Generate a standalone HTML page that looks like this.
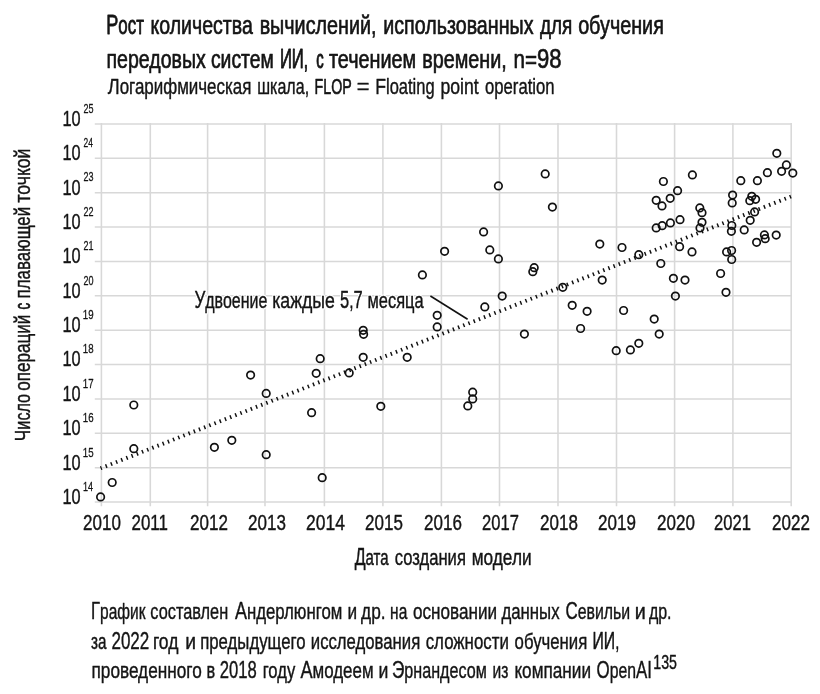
<!DOCTYPE html>
<html lang="ru">
<head>
<meta charset="utf-8">
<title>Рост количества вычислений, использованных для обучения передовых систем ИИ</title>
<style>
html,body{margin:0;padding:0;background:#fff;}
svg{display:block;}
text{font-family:"Liberation Sans",sans-serif;stroke-linejoin:round;}
text:not(#ann),.ink{fill:#141414;stroke:#141414;stroke-width:0.58px;}
.halo{fill:#fff;stroke:#fff;stroke-width:3.18px;stroke-linejoin:round;}
.grid line{stroke:#d8d8d8;stroke-width:1.55;}
.pts circle{fill:none;stroke:#111;stroke-width:1.7;}
</style>
</head>
<body>
<svg width="820" height="694" viewBox="0 0 820 694">
<rect width="820" height="694" fill="#fff"/>
<g class="grid">
<line x1="94.8" y1="123.90" x2="791.98" y2="123.90"/>
<line x1="94.8" y1="158.28" x2="791.98" y2="158.28"/>
<line x1="94.8" y1="192.66" x2="791.98" y2="192.66"/>
<line x1="94.8" y1="227.04" x2="791.98" y2="227.04"/>
<line x1="94.8" y1="261.42" x2="791.98" y2="261.42"/>
<line x1="94.8" y1="295.80" x2="791.98" y2="295.80"/>
<line x1="94.8" y1="330.18" x2="791.98" y2="330.18"/>
<line x1="94.8" y1="364.56" x2="791.98" y2="364.56"/>
<line x1="94.8" y1="398.94" x2="791.98" y2="398.94"/>
<line x1="94.8" y1="433.32" x2="791.98" y2="433.32"/>
<line x1="94.8" y1="467.70" x2="791.98" y2="467.70"/>
<line x1="94.8" y1="502.08" x2="791.98" y2="502.08"/>
<line x1="101.4" y1="123.12" x2="101.4" y2="506.2"/>
<line x1="150.3" y1="123.12" x2="150.3" y2="506.2"/>
<line x1="207.6" y1="123.12" x2="207.6" y2="506.2"/>
<line x1="265" y1="123.12" x2="265" y2="506.2"/>
<line x1="324.4" y1="123.12" x2="324.4" y2="506.2"/>
<line x1="382.9" y1="123.12" x2="382.9" y2="506.2"/>
<line x1="441.4" y1="123.12" x2="441.4" y2="506.2"/>
<line x1="499.5" y1="123.12" x2="499.5" y2="506.2"/>
<line x1="558" y1="123.12" x2="558" y2="506.2"/>
<line x1="616.5" y1="123.12" x2="616.5" y2="506.2"/>
<line x1="674.6" y1="123.12" x2="674.6" y2="506.2"/>
<line x1="732.9" y1="123.12" x2="732.9" y2="506.2"/>
<line x1="791.2" y1="123.12" x2="791.2" y2="506.2"/>
</g>
<line x1="100.6" y1="468.3" x2="791" y2="196.5" stroke="#111" stroke-width="3.9" stroke-dasharray="1.45 4.12" stroke-dashoffset="0.2"/>
<use href="#ann" class="halo" style="stroke-width:3.00px"/>
<g class="ink" style="stroke-width:0.4px"><text y="307.7" id="ann" font-size="21.8"><tspan x="194.40" textLength="10.86" lengthAdjust="spacingAndGlyphs" font-size="23.33">У</tspan><tspan x="205.26" textLength="62.03" lengthAdjust="spacingAndGlyphs">двоение</tspan> <tspan x="272.19" textLength="62.71" lengthAdjust="spacingAndGlyphs">каждые</tspan> <tspan x="340.10" textLength="9.16" lengthAdjust="spacingAndGlyphs" font-size="23.33">5</tspan><tspan x="349.26" textLength="4.27" lengthAdjust="spacingAndGlyphs">,</tspan><tspan x="353.53" textLength="9.16" lengthAdjust="spacingAndGlyphs" font-size="23.33">7</tspan> <tspan x="367.55" textLength="56.09" lengthAdjust="spacingAndGlyphs">месяца</tspan></text></g>
<line x1="430.4" y1="296" x2="467.6" y2="319.2" stroke="#111" stroke-width="1.6"/>
<g class="pts">
<circle cx="133.8" cy="405.0" r="3.75"/>
<circle cx="133.8" cy="448.7" r="3.75"/>
<circle cx="112.2" cy="482.5" r="3.75"/>
<circle cx="100.6" cy="496.9" r="3.75"/>
<circle cx="214.4" cy="447.3" r="3.75"/>
<circle cx="231.8" cy="440.3" r="3.75"/>
<circle cx="266.2" cy="454.7" r="3.75"/>
<circle cx="311.6" cy="412.7" r="3.75"/>
<circle cx="322.2" cy="477.7" r="3.75"/>
<circle cx="380.8" cy="406.3" r="3.75"/>
<circle cx="467.8" cy="405.9" r="3.75"/>
<circle cx="250.6" cy="375.1" r="3.75"/>
<circle cx="266.2" cy="393.4" r="3.75"/>
<circle cx="316.2" cy="373.3" r="3.75"/>
<circle cx="320.2" cy="358.7" r="3.75"/>
<circle cx="349.2" cy="372.9" r="3.75"/>
<circle cx="363.2" cy="357.3" r="3.75"/>
<circle cx="363.6" cy="334.3" r="3.75"/>
<circle cx="363.2" cy="330.3" r="3.75"/>
<circle cx="407.2" cy="357.3" r="3.75"/>
<circle cx="422.4" cy="274.9" r="3.75"/>
<circle cx="437.2" cy="315.3" r="3.75"/>
<circle cx="437.2" cy="326.9" r="3.75"/>
<circle cx="484.8" cy="306.9" r="3.75"/>
<circle cx="502.2" cy="296.1" r="3.75"/>
<circle cx="498.4" cy="258.9" r="3.75"/>
<circle cx="534.2" cy="267.7" r="3.75"/>
<circle cx="532.8" cy="271.7" r="3.75"/>
<circle cx="562.8" cy="287.3" r="3.75"/>
<circle cx="572.2" cy="305.3" r="3.75"/>
<circle cx="587.1" cy="311.3" r="3.75"/>
<circle cx="580.6" cy="328.5" r="3.75"/>
<circle cx="524.4" cy="334.1" r="3.75"/>
<circle cx="472.7" cy="392.2" r="3.75"/>
<circle cx="472.7" cy="398.9" r="3.75"/>
<circle cx="602.2" cy="280.1" r="3.75"/>
<circle cx="623.6" cy="310.5" r="3.75"/>
<circle cx="616.2" cy="350.7" r="3.75"/>
<circle cx="630.4" cy="349.9" r="3.75"/>
<circle cx="638.8" cy="343.3" r="3.75"/>
<circle cx="654.2" cy="319.1" r="3.75"/>
<circle cx="659.2" cy="334.1" r="3.75"/>
<circle cx="660.8" cy="263.5" r="3.75"/>
<circle cx="673.4" cy="278.3" r="3.75"/>
<circle cx="685.0" cy="280.1" r="3.75"/>
<circle cx="675.4" cy="296.1" r="3.75"/>
<circle cx="720.6" cy="273.5" r="3.75"/>
<circle cx="726.0" cy="292.3" r="3.75"/>
<circle cx="731.7" cy="259.5" r="3.75"/>
<circle cx="444.6" cy="251.3" r="3.75"/>
<circle cx="483.6" cy="231.9" r="3.75"/>
<circle cx="489.8" cy="249.9" r="3.75"/>
<circle cx="498.4" cy="185.9" r="3.75"/>
<circle cx="545.2" cy="173.9" r="3.75"/>
<circle cx="552.4" cy="207.1" r="3.75"/>
<circle cx="599.8" cy="244.1" r="3.75"/>
<circle cx="622.0" cy="247.5" r="3.75"/>
<circle cx="638.8" cy="254.7" r="3.75"/>
<circle cx="663.4" cy="181.5" r="3.75"/>
<circle cx="656.2" cy="200.3" r="3.75"/>
<circle cx="662.0" cy="205.9" r="3.75"/>
<circle cx="670.2" cy="198.3" r="3.75"/>
<circle cx="677.6" cy="190.7" r="3.75"/>
<circle cx="656.2" cy="227.9" r="3.75"/>
<circle cx="662.2" cy="225.7" r="3.75"/>
<circle cx="670.4" cy="222.9" r="3.75"/>
<circle cx="680.0" cy="219.7" r="3.75"/>
<circle cx="679.6" cy="246.7" r="3.75"/>
<circle cx="692.4" cy="174.9" r="3.75"/>
<circle cx="692.0" cy="251.9" r="3.75"/>
<circle cx="699.8" cy="207.9" r="3.75"/>
<circle cx="702.0" cy="212.7" r="3.75"/>
<circle cx="702.0" cy="222.3" r="3.75"/>
<circle cx="700.0" cy="227.9" r="3.75"/>
<circle cx="726.6" cy="251.9" r="3.75"/>
<circle cx="731.6" cy="250.5" r="3.75"/>
<circle cx="732.6" cy="195.1" r="3.75"/>
<circle cx="732.2" cy="202.9" r="3.75"/>
<circle cx="731.8" cy="225.5" r="3.75"/>
<circle cx="731.4" cy="231.3" r="3.75"/>
<circle cx="740.8" cy="180.7" r="3.75"/>
<circle cx="744.2" cy="229.9" r="3.75"/>
<circle cx="749.8" cy="200.7" r="3.75"/>
<circle cx="751.8" cy="196.3" r="3.75"/>
<circle cx="755.6" cy="199.3" r="3.75"/>
<circle cx="754.6" cy="211.9" r="3.75"/>
<circle cx="750.2" cy="220.3" r="3.75"/>
<circle cx="757.4" cy="180.7" r="3.75"/>
<circle cx="756.6" cy="242.3" r="3.75"/>
<circle cx="764.4" cy="234.9" r="3.75"/>
<circle cx="765.2" cy="238.7" r="3.75"/>
<circle cx="776.2" cy="235.1" r="3.75"/>
<circle cx="767.4" cy="172.7" r="3.75"/>
<circle cx="776.8" cy="153.3" r="3.75"/>
<circle cx="781.6" cy="171.3" r="3.75"/>
<circle cx="786.4" cy="164.9" r="3.75"/>
<circle cx="792.8" cy="173.1" r="3.75"/>
</g>
<text y="33.8" style="stroke-width:0.65px" font-size="25.0"><tspan x="106.17" textLength="12.09" lengthAdjust="spacingAndGlyphs" font-size="26.75" style="stroke-width:0.78px">Р</tspan><tspan x="118.26" textLength="25.64" lengthAdjust="spacingAndGlyphs" style="stroke-width:0.78px">ост</tspan> <tspan x="150.54" textLength="102.26" lengthAdjust="spacingAndGlyphs">количества</tspan> <tspan x="259.63" textLength="111.40" lengthAdjust="spacingAndGlyphs">вычислений</tspan><tspan x="371.04" textLength="5.49" lengthAdjust="spacingAndGlyphs">,</tspan> <tspan x="383.24" textLength="150.24" lengthAdjust="spacingAndGlyphs">использованных</tspan> <tspan x="539.93" textLength="32.42" lengthAdjust="spacingAndGlyphs">для</tspan> <tspan x="578.13" textLength="85.76" lengthAdjust="spacingAndGlyphs">обучения</tspan></text>
<text y="67.6" style="stroke-width:0.65px" font-size="25.0"><tspan x="106.44" textLength="99.34" lengthAdjust="spacingAndGlyphs">передовых</tspan> <tspan x="210.95" textLength="62.84" lengthAdjust="spacingAndGlyphs">систем</tspan> <tspan x="279.88" textLength="23.96" lengthAdjust="spacingAndGlyphs" font-size="26.75" style="stroke-width:0.94px">ИИ</tspan><tspan x="303.84" textLength="4.33" lengthAdjust="spacingAndGlyphs" style="stroke-width:0.94px">,</tspan> <tspan x="316.13" textLength="7.44" lengthAdjust="spacingAndGlyphs" style="stroke-width:1.02px">с</tspan> <tspan x="328.93" textLength="87.29" lengthAdjust="spacingAndGlyphs">течением</tspan> <tspan x="422.13" textLength="79.11" lengthAdjust="spacingAndGlyphs">времени</tspan><tspan x="501.24" textLength="5.50" lengthAdjust="spacingAndGlyphs">,</tspan> <tspan x="513.50" textLength="23.53" lengthAdjust="spacingAndGlyphs">n=</tspan><tspan x="537.03" textLength="24.57" lengthAdjust="spacingAndGlyphs" font-size="26.75">98</tspan></text>
<text y="93.9" style="stroke-width:0.4px" font-size="21.2"><tspan x="107.80" textLength="11.90" lengthAdjust="spacingAndGlyphs" font-size="22.68">Л</tspan><tspan x="119.70" textLength="131.68" lengthAdjust="spacingAndGlyphs">огарифмическая</tspan> <tspan x="257.24" textLength="47.39" lengthAdjust="spacingAndGlyphs">шкала</tspan><tspan x="304.64" textLength="4.45" lengthAdjust="spacingAndGlyphs">,</tspan> <tspan x="314.57" textLength="37.13" lengthAdjust="spacingAndGlyphs" font-size="22.68" style="stroke-width:0.68px">FLOP</tspan> <tspan x="356.77" textLength="12.71" lengthAdjust="spacingAndGlyphs">=</tspan> <tspan x="375.22" textLength="10.78" lengthAdjust="spacingAndGlyphs" font-size="22.68">F</tspan><tspan x="386.00" textLength="48.61" lengthAdjust="spacingAndGlyphs">loating</tspan> <tspan x="440.47" textLength="38.24" lengthAdjust="spacingAndGlyphs">point</tspan> <tspan x="485.00" textLength="69.62" lengthAdjust="spacingAndGlyphs">operation</tspan></text>
<text transform="translate(30.3 441) rotate(-90)" y="0" style="stroke-width:0.42px" font-size="21.2"><tspan x="-0.15" textLength="11.53" lengthAdjust="spacingAndGlyphs" font-size="22.68">Ч</tspan><tspan x="11.37" textLength="35.71" lengthAdjust="spacingAndGlyphs">исло</tspan> <tspan x="50.21" textLength="76.15" lengthAdjust="spacingAndGlyphs">операций</tspan> <tspan x="131.41" textLength="6.63" lengthAdjust="spacingAndGlyphs" style="stroke-width:0.70px">с</tspan> <tspan x="142.61" textLength="91.54" lengthAdjust="spacingAndGlyphs">плавающей</tspan> <tspan x="238.51" textLength="53.87" lengthAdjust="spacingAndGlyphs">точкой</tspan></text>
<text y="565.0" style="stroke-width:0.42px" font-size="21.5"><tspan x="354.71" textLength="10.84" lengthAdjust="spacingAndGlyphs" font-size="23.01" style="stroke-width:0.49px">Д</tspan><tspan x="365.55" textLength="23.01" lengthAdjust="spacingAndGlyphs" style="stroke-width:0.49px">ата</tspan> <tspan x="394.71" textLength="71.18" lengthAdjust="spacingAndGlyphs">создания</tspan> <tspan x="471.71" textLength="59.89" lengthAdjust="spacingAndGlyphs">модели</tspan></text>
<text y="619.0" style="stroke-width:0.4px" font-size="21.5"><tspan x="91.08" textLength="8.98" lengthAdjust="spacingAndGlyphs" font-size="23.01">Г</tspan><tspan x="100.06" textLength="45.42" lengthAdjust="spacingAndGlyphs">рафик</tspan> <tspan x="150.30" textLength="77.86" lengthAdjust="spacingAndGlyphs">составлен</tspan> <tspan x="234.90" textLength="11.99" lengthAdjust="spacingAndGlyphs" font-size="23.01">А</tspan><tspan x="246.89" textLength="95.52" lengthAdjust="spacingAndGlyphs">ндерлюнгом</tspan> <tspan x="347.40" textLength="9.61" lengthAdjust="spacingAndGlyphs">и</tspan> <tspan x="361.10" textLength="24.48" lengthAdjust="spacingAndGlyphs">др.</tspan> <tspan x="390.08" textLength="17.19" lengthAdjust="spacingAndGlyphs">на</tspan> <tspan x="413.00" textLength="84.00" lengthAdjust="spacingAndGlyphs">основании</tspan> <tspan x="501.40" textLength="58.20" lengthAdjust="spacingAndGlyphs">данных</tspan> <tspan x="565.46" textLength="12.24" lengthAdjust="spacingAndGlyphs" font-size="23.01">С</tspan><tspan x="577.71" textLength="52.44" lengthAdjust="spacingAndGlyphs">евильи</tspan> <tspan x="634.68" textLength="11.05" lengthAdjust="spacingAndGlyphs">и</tspan> <tspan x="648.90" textLength="22.62" lengthAdjust="spacingAndGlyphs">др.</tspan></text>
<text y="648.5" style="stroke-width:0.4px" font-size="21.5"><tspan x="91.10" textLength="15.47" lengthAdjust="spacingAndGlyphs" style="stroke-width:0.43px">за</tspan> <tspan x="111.46" textLength="37.82" lengthAdjust="spacingAndGlyphs" font-size="23.01">2022</tspan> <tspan x="152.89" textLength="25.54" lengthAdjust="spacingAndGlyphs">год</tspan> <tspan x="185.30" textLength="10.81" lengthAdjust="spacingAndGlyphs">и</tspan> <tspan x="200.22" textLength="105.35" lengthAdjust="spacingAndGlyphs">предыдущего</tspan> <tspan x="310.82" textLength="109.38" lengthAdjust="spacingAndGlyphs">исследования</tspan> <tspan x="425.70" textLength="83.19" lengthAdjust="spacingAndGlyphs">сложности</tspan> <tspan x="514.60" textLength="72.70" lengthAdjust="spacingAndGlyphs">обучения</tspan> <tspan x="592.51" textLength="22.74" lengthAdjust="spacingAndGlyphs" font-size="23.01" style="stroke-width:0.50px">ИИ</tspan><tspan x="615.25" textLength="4.11" lengthAdjust="spacingAndGlyphs" style="stroke-width:0.50px">,</tspan></text>
<text y="678.0" style="stroke-width:0.4px" font-size="21.5"><tspan x="91.50" textLength="110.27" lengthAdjust="spacingAndGlyphs">проведенного</tspan> <tspan x="206.44" textLength="8.68" lengthAdjust="spacingAndGlyphs">в</tspan> <tspan x="219.78" textLength="37.00" lengthAdjust="spacingAndGlyphs" font-size="23.01">2018</tspan> <tspan x="262.63" textLength="32.58" lengthAdjust="spacingAndGlyphs">году</tspan> <tspan x="300.40" textLength="12.10" lengthAdjust="spacingAndGlyphs" font-size="23.01">А</tspan><tspan x="312.50" textLength="61.12" lengthAdjust="spacingAndGlyphs">модеем</tspan> <tspan x="378.38" textLength="9.85" lengthAdjust="spacingAndGlyphs">и</tspan> <tspan x="391.95" textLength="12.40" lengthAdjust="spacingAndGlyphs" font-size="23.01">Э</tspan><tspan x="404.35" textLength="82.44" lengthAdjust="spacingAndGlyphs">рнандесом</tspan> <tspan x="492.48" textLength="15.82" lengthAdjust="spacingAndGlyphs">из</tspan> <tspan x="514.40" textLength="76.61" lengthAdjust="spacingAndGlyphs">компании</tspan> <tspan x="596.57" textLength="13.14" lengthAdjust="spacingAndGlyphs" font-size="23.01">O</tspan><tspan x="609.71" textLength="26.35" lengthAdjust="spacingAndGlyphs">pen</tspan><tspan x="636.06" textLength="15.96" lengthAdjust="spacingAndGlyphs" font-size="23.01">AI</tspan></text>
<text y="668.7" style="stroke-width:0.4px" font-size="19.8"><tspan x="653.28" textLength="23.72" lengthAdjust="spacingAndGlyphs">135</tspan></text>
<text y="529.8" style="stroke-width:0.42px" font-size="22.6"><tspan x="83.06" textLength="37.86" lengthAdjust="spacingAndGlyphs">2010</tspan></text>
<text y="529.8" style="stroke-width:0.42px" font-size="22.6"><tspan x="131.56" textLength="36.35" lengthAdjust="spacingAndGlyphs">2011</tspan></text>
<text y="529.8" style="stroke-width:0.42px" font-size="22.6"><tspan x="190.06" textLength="37.86" lengthAdjust="spacingAndGlyphs">2012</tspan></text>
<text y="529.8" style="stroke-width:0.42px" font-size="22.6"><tspan x="248.06" textLength="37.86" lengthAdjust="spacingAndGlyphs">2013</tspan></text>
<text y="529.8" style="stroke-width:0.42px" font-size="22.6"><tspan x="306.04" textLength="38.89" lengthAdjust="spacingAndGlyphs">2014</tspan></text>
<text y="529.8" style="stroke-width:0.42px" font-size="22.6"><tspan x="365.06" textLength="37.86" lengthAdjust="spacingAndGlyphs">2015</tspan></text>
<text y="529.8" style="stroke-width:0.42px" font-size="22.6"><tspan x="424.06" textLength="37.86" lengthAdjust="spacingAndGlyphs">2016</tspan></text>
<text y="529.8" style="stroke-width:0.42px" font-size="22.6"><tspan x="482.08" textLength="36.83" lengthAdjust="spacingAndGlyphs">2017</tspan></text>
<text y="529.8" style="stroke-width:0.42px" font-size="22.6"><tspan x="540.06" textLength="37.86" lengthAdjust="spacingAndGlyphs">2018</tspan></text>
<text y="529.8" style="stroke-width:0.42px" font-size="22.6"><tspan x="598.06" textLength="37.86" lengthAdjust="spacingAndGlyphs">2019</tspan></text>
<text y="529.8" style="stroke-width:0.42px" font-size="22.6"><tspan x="657.06" textLength="37.86" lengthAdjust="spacingAndGlyphs">2020</tspan></text>
<text y="529.8" style="stroke-width:0.42px" font-size="22.6"><tspan x="714.08" textLength="36.83" lengthAdjust="spacingAndGlyphs">2021</tspan></text>
<text y="529.8" style="stroke-width:0.42px" font-size="22.6"><tspan x="772.06" textLength="37.86" lengthAdjust="spacingAndGlyphs">2022</tspan></text>
<text y="125.8" style="stroke-width:0.42px" font-size="22.8"><tspan x="62.39" textLength="18.18" lengthAdjust="spacingAndGlyphs">10</tspan></text>
<text y="112.7" style="stroke-width:0.3px" font-size="13.5"><tspan x="83.55" textLength="10.04" lengthAdjust="spacingAndGlyphs">25</tspan></text>
<text y="160.18" style="stroke-width:0.42px" font-size="22.8"><tspan x="62.39" textLength="18.18" lengthAdjust="spacingAndGlyphs">10</tspan></text>
<text y="147.08" style="stroke-width:0.3px" font-size="13.5"><tspan x="83.55" textLength="9.39" lengthAdjust="spacingAndGlyphs">24</tspan></text>
<text y="194.56" style="stroke-width:0.42px" font-size="22.8"><tspan x="62.39" textLength="18.18" lengthAdjust="spacingAndGlyphs">10</tspan></text>
<text y="181.46" style="stroke-width:0.3px" font-size="13.5"><tspan x="83.55" textLength="10.04" lengthAdjust="spacingAndGlyphs">23</tspan></text>
<text y="228.94" style="stroke-width:0.42px" font-size="22.8"><tspan x="62.39" textLength="18.18" lengthAdjust="spacingAndGlyphs">10</tspan></text>
<text y="215.84" style="stroke-width:0.3px" font-size="13.5"><tspan x="83.55" textLength="10.04" lengthAdjust="spacingAndGlyphs">22</tspan></text>
<text y="263.32" style="stroke-width:0.42px" font-size="22.8"><tspan x="62.39" textLength="18.18" lengthAdjust="spacingAndGlyphs">10</tspan></text>
<text y="250.22" style="stroke-width:0.3px" font-size="13.5"><tspan x="83.55" textLength="10.04" lengthAdjust="spacingAndGlyphs">21</tspan></text>
<text y="297.7" style="stroke-width:0.42px" font-size="22.8"><tspan x="62.39" textLength="18.18" lengthAdjust="spacingAndGlyphs">10</tspan></text>
<text y="284.6" style="stroke-width:0.3px" font-size="13.5"><tspan x="83.55" textLength="10.04" lengthAdjust="spacingAndGlyphs">20</tspan></text>
<text y="332.08" style="stroke-width:0.42px" font-size="22.8"><tspan x="62.39" textLength="18.18" lengthAdjust="spacingAndGlyphs">10</tspan></text>
<text y="318.98" style="stroke-width:0.3px" font-size="13.5"><tspan x="82.83" textLength="10.78" lengthAdjust="spacingAndGlyphs">19</tspan></text>
<text y="366.46" style="stroke-width:0.42px" font-size="22.8"><tspan x="62.39" textLength="18.18" lengthAdjust="spacingAndGlyphs">10</tspan></text>
<text y="353.36" style="stroke-width:0.3px" font-size="13.5"><tspan x="82.83" textLength="10.78" lengthAdjust="spacingAndGlyphs">18</tspan></text>
<text y="400.84" style="stroke-width:0.42px" font-size="22.8"><tspan x="62.39" textLength="18.18" lengthAdjust="spacingAndGlyphs">10</tspan></text>
<text y="387.74" style="stroke-width:0.3px" font-size="13.5"><tspan x="82.83" textLength="10.78" lengthAdjust="spacingAndGlyphs">17</tspan></text>
<text y="435.22" style="stroke-width:0.42px" font-size="22.8"><tspan x="62.39" textLength="18.18" lengthAdjust="spacingAndGlyphs">10</tspan></text>
<text y="422.12" style="stroke-width:0.3px" font-size="13.5"><tspan x="82.83" textLength="10.78" lengthAdjust="spacingAndGlyphs">16</tspan></text>
<text y="469.6" style="stroke-width:0.42px" font-size="22.8"><tspan x="62.39" textLength="18.18" lengthAdjust="spacingAndGlyphs">10</tspan></text>
<text y="456.5" style="stroke-width:0.3px" font-size="13.5"><tspan x="82.83" textLength="10.78" lengthAdjust="spacingAndGlyphs">15</tspan></text>
<text y="503.98" style="stroke-width:0.42px" font-size="22.8"><tspan x="62.39" textLength="18.18" lengthAdjust="spacingAndGlyphs">10</tspan></text>
<text y="490.88" style="stroke-width:0.3px" font-size="13.5"><tspan x="82.88" textLength="10.04" lengthAdjust="spacingAndGlyphs">14</tspan></text>
</svg>
</body>
</html>
